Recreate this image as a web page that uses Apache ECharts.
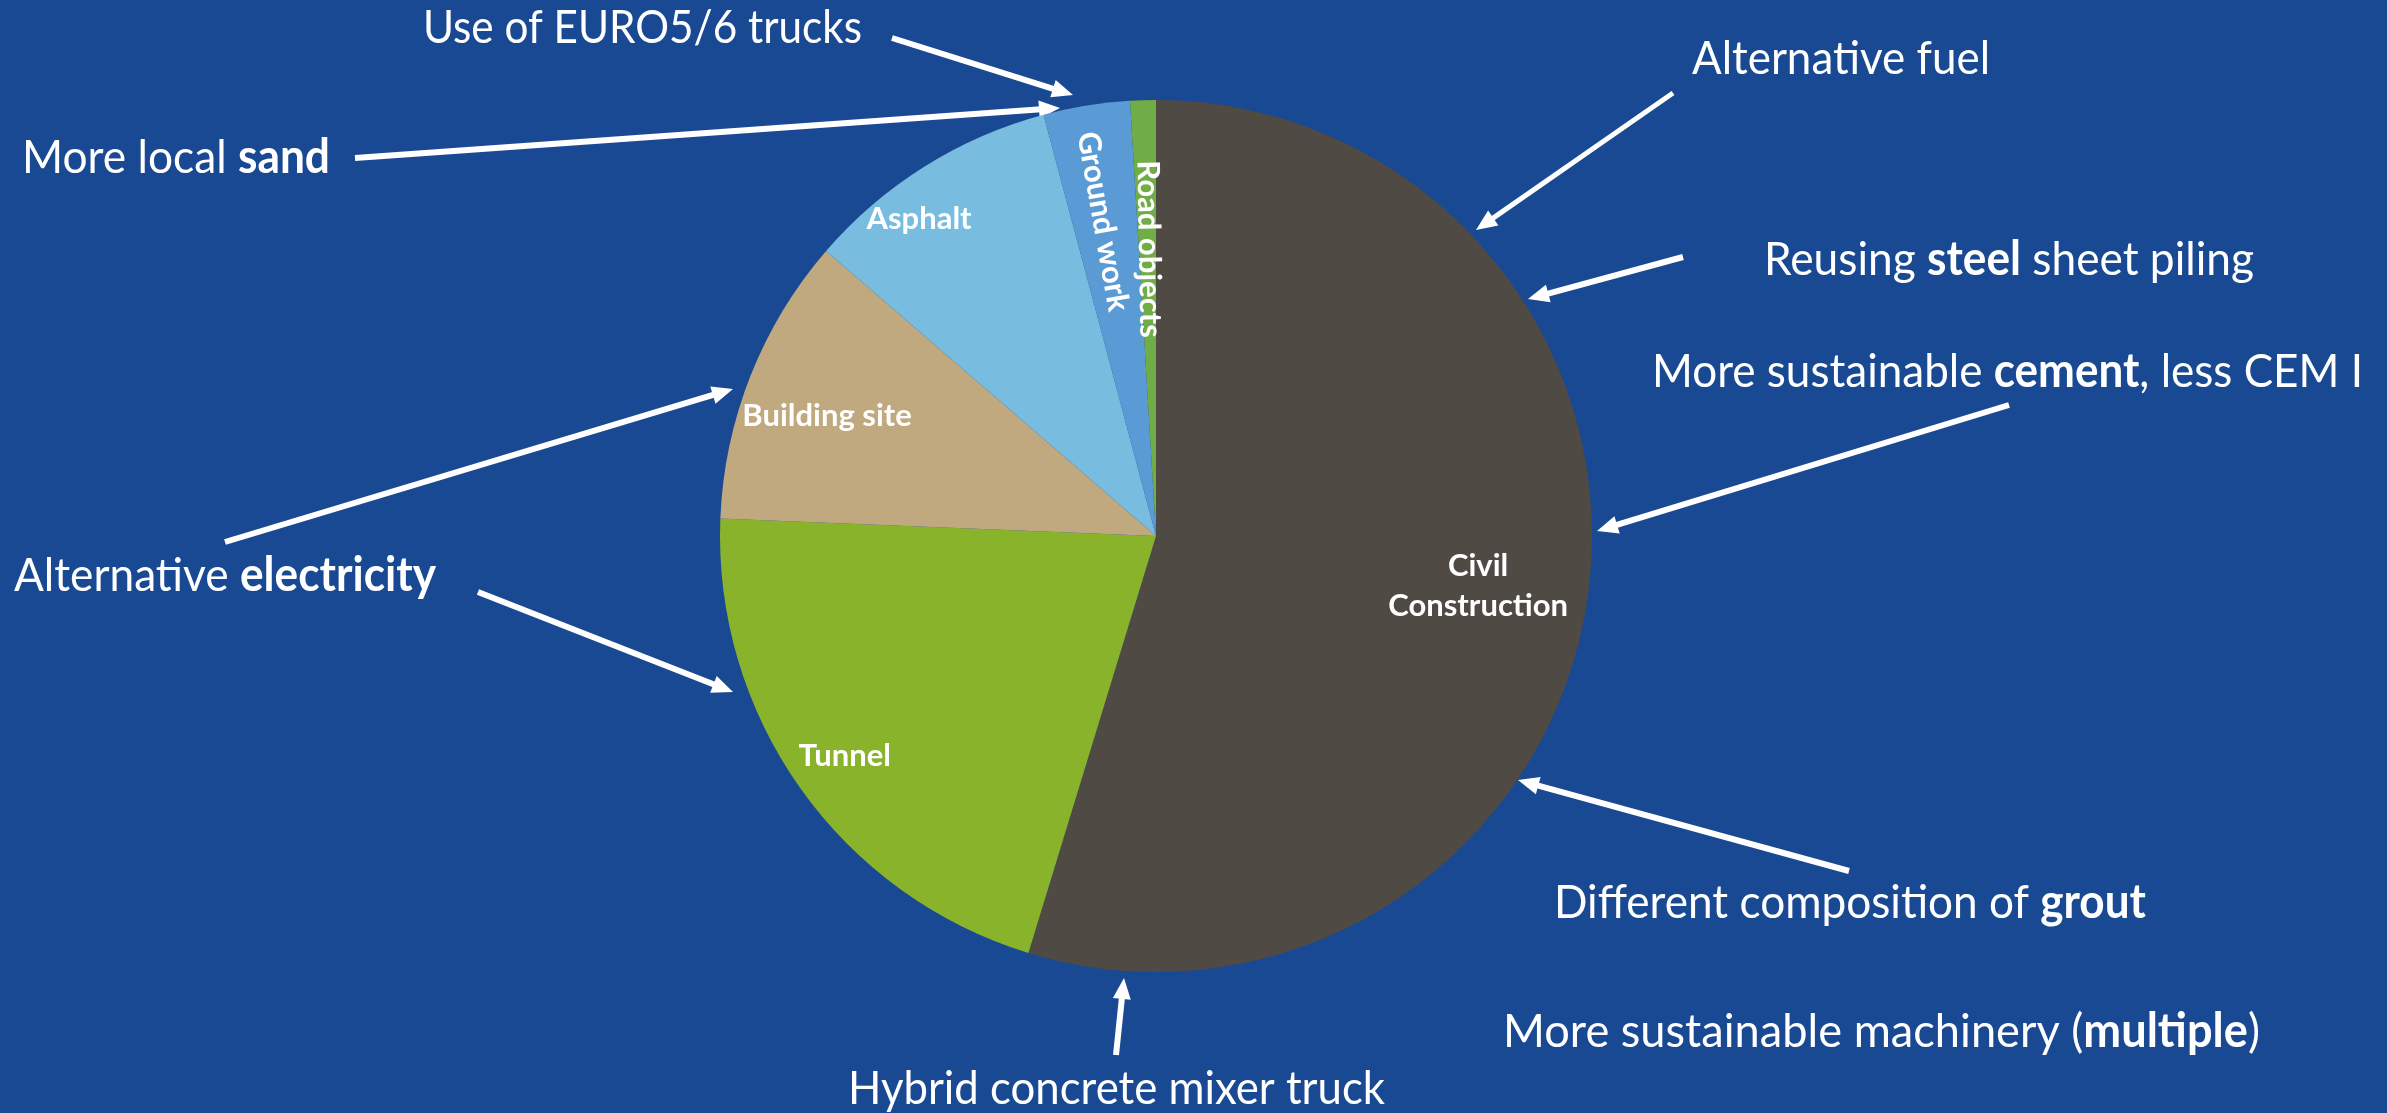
<!DOCTYPE html>
<html>
<head>
<meta charset="utf-8">
<script src="https://cdn.jsdelivr.net/npm/echarts@6/dist/echarts.min.js"></script>
<style>
html,body{margin:0;padding:0;width:100%;height:100%;background:#1A4993;overflow:hidden;}
#chart{width:2387px;height:1113px;}
</style>
</head>
<body>
<div id="chart"></div>
<script>
// ---------- data ----------
const categories = ['Civil Construction', 'Tunnel', 'Building site', 'Asphalt', 'Ground work', 'Road objects'];
const shares = [54.7, 20.9, 10.7, 9.5, 3.2, 0.95];
const sliceColors = ['#504A44', '#8AB32C', '#C1A97F', '#78BCDF', '#5B9BD5', '#70AD47'];

// annotation texts ({b|...} = bold part)
const notes = [
  'Use of EURO5/6 trucks',
  'More local {b|sand}',
  'Alternative fuel',
  'Reusing {b|steel} sheet piling',
  'More sustainable {b|cement}, less CEM I',
  'Alternative {b|electricity}',
  'Different composition of {b|grout}',
  'More sustainable machinery ({b|multiple})',
  'Hybrid concrete mixer truck'
];

// ---------- layout / style (not data) ----------
const PIE_CX = 1156, PIE_CY = 536, PIE_R = 436;
const labelRadius = [326, 381, 350, 396, 319, 287];
const labelAngleShift = [0.3, 0.1, -1.6, -4.7, -0.4, 0.3];
const labelRotate = [0, 0, 0, 0, -80, -89];

const NOTE_FS = 47;
// [left x, baseline y, target width]
const notePos = [
  [423, 43, 439],
  [22, 173, 308],
  [1692, 74, 298],
  [1764, 275, 490],
  [1652, 387, 711],
  [14, 591, 422],
  [1554, 918, 592],
  [1503, 1047, 757],
  [848, 1104, 537]
];
// arrows: [tailX, tailY, tipX, tipY, lineWidth]
const arrows = [
  [892, 38, 1073, 95, 6],
  [355, 158, 1060, 108, 6],
  [1673, 93, 1476, 230, 5],
  [1683, 257, 1528, 299, 6],
  [2009, 405, 1597, 531, 6],
  [225, 542, 733, 389, 6],
  [478, 592, 733, 692, 6],
  [1849, 871, 1518, 780, 6],
  [1116, 1055, 1124, 978, 6]
];

// ---------- build ----------
const mctx = document.createElement('canvas').getContext('2d');
function parseRich(s) {
  const segs = [];
  const re = /\{b\|([^}]*)\}/g;
  let last = 0, m;
  while ((m = re.exec(s)) !== null) {
    if (m.index > last) segs.push({ t: s.slice(last, m.index), bold: false });
    segs.push({ t: m[1], bold: true });
    last = re.lastIndex;
  }
  if (last < s.length) segs.push({ t: s.slice(last), bold: false });
  return segs;
}
function measure(segs) {
  let w = 0;
  segs.forEach(sg => {
    mctx.font = (sg.bold ? 'bold ' : '') + NOTE_FS + 'px Lato';
    w += mctx.measureText(sg.t).width;
  });
  return w;
}

const graphics = [];
notes.forEach((txt, i) => {
  const p = notePos[i];
  const segs = parseRich(txt);
  const natural = measure(segs);
  const sx = p[2] / natural;
  graphics.push({
    type: 'text',
    x: p[0],
    y: p[1] - 15,
    scaleX: sx,
    silent: true,
    style: {
      text: txt,
      fill: '#ffffff',
      fontSize: NOTE_FS,
      fontFamily: 'Lato',
      align: 'left',
      verticalAlign: 'middle',
      rich: {
        b: { fontWeight: 'bold', fontSize: NOTE_FS, fontFamily: 'Lato', fill: '#ffffff' }
      }
    }
  });
});

arrows.forEach(a => {
  const [tx, ty, hx, hy, w] = a;
  const dx = hx - tx, dy = hy - ty, len = Math.hypot(dx, dy);
  const ux = dx / len, uy = dy / len;
  const L = 21, W = 9;
  const bx = hx - ux * L, by = hy - uy * L;
  graphics.push({
    type: 'line', silent: true,
    shape: { x1: tx, y1: ty, x2: bx + ux * 2, y2: by + uy * 2 },
    style: { stroke: '#ffffff', lineWidth: w, lineCap: 'butt' }
  });
  graphics.push({
    type: 'polygon', silent: true,
    shape: { points: [[hx, hy], [bx - uy * W, by + ux * W], [bx + uy * W, by - ux * W]] },
    style: { fill: '#ffffff' }
  });
});

const pieData = categories.map((name, i) => ({
  name: name,
  value: shares[i],
  itemStyle: { color: sliceColors[i] },
  label: { rotate: labelRotate[i] }
}));

const chart = echarts.init(document.getElementById('chart'), null, { renderer: 'canvas' });
chart.setOption({
  backgroundColor: '#1A4993',
  animation: false,
  series: [{
    type: 'pie',
    center: [PIE_CX, PIE_CY],
    radius: PIE_R,
    startAngle: 90,
    clockwise: true,
    avoidLabelOverlap: false,
    silent: true,
    data: pieData,
    itemStyle: { borderWidth: 0 },
    label: {
      show: true,
      position: 'inside',
      color: '#ffffff',
      fontFamily: 'Lato',
      fontWeight: 'bold',
      fontSize: 31,
      lineHeight: 40,
      formatter: p => p.dataIndex === 0 ? p.name.replace(' ', '\n') : p.name
    },
    labelLine: { show: false },
    labelLayout: function (params) {
      const r = params.labelRect;
      const lx = r.x + r.width / 2, ly = r.y + r.height / 2;
      let ang = Math.atan2(ly - PIE_CY, lx - PIE_CX);
      ang += labelAngleShift[params.dataIndex] * Math.PI / 180;
      const R = labelRadius[params.dataIndex];
      return {
        x: PIE_CX + R * Math.cos(ang),
        y: PIE_CY + R * Math.sin(ang),
        align: 'center',
        verticalAlign: 'middle'
      };
    }
  }],
  graphic: graphics
});
</script>
</body>
</html>
